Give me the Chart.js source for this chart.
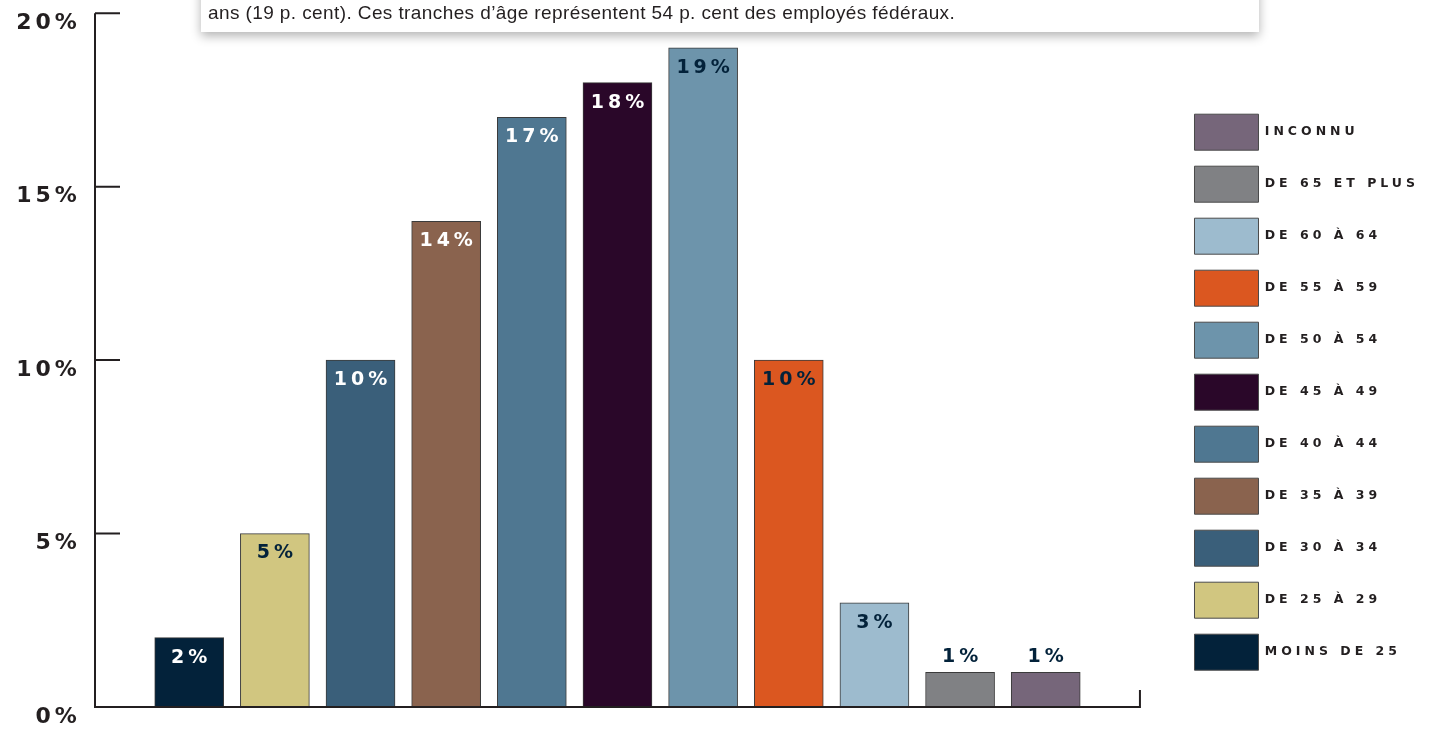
<!DOCTYPE html>
<html lang="fr">
<head>
<meta charset="utf-8">
<title>Employés fédéraux par tranche d'âge</title>
<script src="https://cdn.jsdelivr.net/npm/chart.js@4.4.1/dist/chart.umd.min.js"></script>
<style>
  html, body { margin: 0; padding: 0; background: #fff; overflow: hidden; }
  #wrap { position: relative; width: 1447px; height: 730px; }
  #note {
    position: absolute; left: 201px; top: -24px; width: 1058px; height: 56px;
    background: #fff; box-shadow: 0 4px 10px rgba(0,0,0,0.3);
    font-family: 'Liberation Sans', sans-serif;
    font-size: 19px; letter-spacing: 0.4px; color: #231f20;
  }
  #note p { position: absolute; left: 7px; bottom: 8px; margin: 0; white-space: nowrap; }
</style>
</head>
<body>
<div id="wrap">
  <canvas id="myChart" width="1447" height="730"></canvas>
  <div id="note"><p>ans (19 p. cent). Ces tranches d’âge représentent 54 p. cent des employés fédéraux.</p></div>
</div>
<script>
// data
const categories = ['MOINS DE 25', 'DE 25 À 29', 'DE 30 À 34', 'DE 35 À 39', 'DE 40 À 44', 'DE 45 À 49',
  'DE 50 À 54', 'DE 55 À 59', 'DE 60 À 64', 'DE 65 ET PLUS', 'INCONNU'];
const values = [2, 5, 10, 14, 17, 18, 19, 10, 3, 1, 1];
const yTicks = [0, 5, 10, 15, 20];

// colours
const barColors = ['#03223a', '#d1c680', '#3a5f7a', '#8a634e', '#4f7791', '#2a0729',
  '#6d94ab', '#db5720', '#9dbbce', '#808184', '#76667a'];
const labelColors = ['#ffffff', '#03223a', '#ffffff', '#ffffff', '#ffffff', '#ffffff',
  '#03223a', '#03223a', '#03223a', '#03223a', '#03223a'];
const ink = '#231f20';
const axisEnd = 11.1; // where the x axis line stops (in category units)

// wide lettering for every canvas text
const spacing = {
  id: 'spacing',
  beforeLayout(chart) { chart.ctx.letterSpacing = '4px'; },
  beforeDraw(chart) { chart.ctx.letterSpacing = '4px'; }
};

// axis lines, short ticks pointing into the plot, end tick on x axis
const axisMarks = {
  id: 'axisMarks',
  afterDraw(chart) {
    const {ctx, chartArea: a, scales: {x, y}} = chart;
    const xEnd = x.getPixelForValue(axisEnd);
    ctx.save();
    ctx.strokeStyle = ink;
    ctx.lineWidth = 2;
    ctx.beginPath();
    ctx.moveTo(a.left, a.top);
    ctx.lineTo(a.left, a.bottom);
    ctx.lineTo(xEnd, a.bottom);
    ctx.lineTo(xEnd, a.bottom - 17);
    y.ticks.forEach(t => {
      if (t.value > 0) {
        const py = y.getPixelForValue(t.value);
        ctx.moveTo(a.left, py);
        ctx.lineTo(a.left + 25, py);
      }
    });
    ctx.stroke();
    ctx.restore();
  }
};

// value labels on the bars
const barLabels = {
  id: 'barLabels',
  afterDatasetsDraw(chart) {
    const ctx = chart.ctx;
    const meta = chart.getDatasetMeta(0);
    ctx.save();
    ctx.font = 'bold 19px "DejaVu Sans"';
    ctx.textAlign = 'center';
    ctx.textBaseline = 'middle';
    meta.data.forEach((bar, i) => {
      const v = values[i];
      ctx.fillStyle = labelColors[i];
      ctx.fillText(v + '%', bar.x + 2, v >= 2 ? bar.y + 20 : bar.y - 15);
    });
    ctx.restore();
  }
};

new Chart(document.getElementById('myChart'), {
  type: 'bar',
  data: {
    datasets: [{
      data: values.map((v, i) => ({x: i, y: v})),
      backgroundColor: barColors,
      borderColor: '#3b3b3b',
      borderWidth: 1,
      barThickness: 69
    }]
  },
  options: {
    responsive: false,
    animation: false,
    layout: { padding: { left: 0, right: 18, top: 0, bottom: 0 } },
    plugins: {
      tooltip: { enabled: false },
      legend: {
        position: 'right',
        title: { display: true, text: ' ', padding: 20, font: { size: 12 } },
        labels: {
          boxWidth: 64,
          boxHeight: 36,
          padding: 16,
          color: ink,
          font: { family: 'DejaVu Sans', size: 12.5, weight: 'bold' },
          generateLabels: () => categories.map((c, i) => ({
            text: c, fillStyle: barColors[i], strokeStyle: '#4a4a4a', lineWidth: 1,
            fontColor: ink, index: i
          })).reverse()
        }
      }
    },
    scales: {
      x: {
        type: 'linear', min: -1.1, max: 11.55, offset: false,
        grid: { display: false },
        ticks: { display: false },
        border: { display: false },
        afterFit(s) { s.height = 23; }
      },
      y: {
        min: 0, max: 20,
        grid: { display: false },
        border: { display: false },
        afterBuildTicks(s) { s.ticks = yTicks.map(v => ({value: v})); },
        ticks: {
          callback: v => v + '%\u200A',
          color: ink,
          padding: 0,
          labelOffset: 10,
          font: { family: 'DejaVu Sans', size: 22, weight: 'bold' }
        },
        afterFit(s) { s.width = 95; }
      }
    }
  },
  plugins: [spacing, axisMarks, barLabels]
});
</script>
</body>
</html>
